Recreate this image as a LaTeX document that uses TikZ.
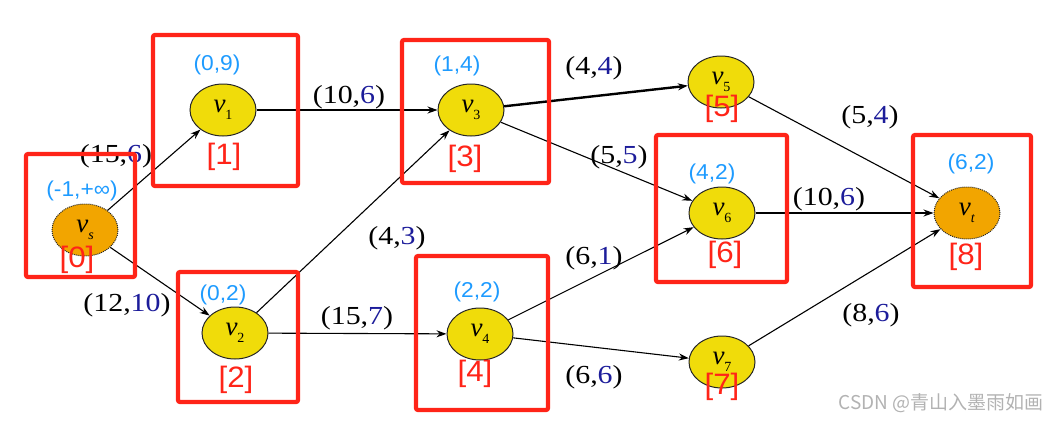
\documentclass[tikz,border=0pt]{standalone}
\usepackage{fontspec}
\setmainfont{Liberation Serif}
\newfontfamily\wfont[FakeStretch=1.15]{Liberation Serif}
\newfontfamily\lblfont[FakeStretch=1.06]{Liberation Sans}
\newfontfamily\cjkfont{Noto Sans CJK SC}
\usetikzlibrary{shapes.geometric,arrows.meta}
\definecolor{vyellow}{HTML}{F0DC0A}
\definecolor{vorange}{HTML}{F2A500}
\definecolor{lblue}{HTML}{1E9BFF}
\definecolor{dblue}{HTML}{1C1C9A}
\definecolor{boxred}{HTML}{FF2418}
\newcommand{\vlab}[1]{\textit{v}\raisebox{-7pt}{\fontsize{14}{14}\selectfont #1}}
\newcommand{\wlab}[2]{(#1,\textcolor{dblue}{#2})}
\tikzset{
  vnode/.style={ellipse, draw=black!85, line width=1pt, fill=vyellow, minimum width=66pt, minimum height=52pt, inner sep=0pt, font=\fontsize{27}{28}\selectfont},
  endnode/.style={vnode, fill=vorange, densely dotted},
  rbox/.style={draw=boxred, line width=4.2pt, rounded corners=2pt, inner sep=0pt},
  wlabel/.style={font=\wfont\fontsize{26}{28}\selectfont, inner sep=0pt},
  blab/.style={text=lblue, font=\lblfont\fontsize{21.5}{23}\selectfont, inner sep=0pt},
  idx/.style={text=boxred, font=\lblfont\fontsize{29.5}{31}\selectfont, inner sep=0pt},
  arr/.style={-{Stealth[length=10pt,width=7pt]}, line width=1.1pt},
}
\begin{document}
\begin{tikzpicture}[x=1pt,y=-1pt]
\useasboundingbox (0,0) rectangle (1058,424);
% vertices
\node[endnode] (vs) at (85,230) {\vlab{\textit{s}}};
\node[vnode] (v1) at (223,110) {\vlab{1}};
\node[vnode] (v2) at (235,333) {\vlab{2}};
\node[vnode] (v3) at (471,110) {\vlab{3}};
\node[vnode] (v4) at (480,334) {\vlab{4}};
\node[vnode] (v5) at (721,82) {\vlab{5}};
\node[vnode] (v6) at (722,213) {\vlab{6}};
\node[vnode] (v7) at (722,362) {\vlab{7}};
\node[endnode] (vt) at (967,213) {\vlab{\textit{t}}};
% edges
\draw[arr] (vs) -- (v1);
\draw[arr] (vs) -- (v2);
\draw[arr] (v1) -- (v3);
\draw[arr] (v2) -- (v3);
\draw[arr] (v2) -- (v4);
\draw[arr, line width=2.4pt] (v3) -- (v5);
\draw[arr] (v3) -- (v6);
\draw[arr] (v4) -- (v6);
\draw[arr] (v4) -- (v7);
\draw[arr] (v5) -- (vt);
\draw[arr] (v6) -- (vt);
\draw[arr] (v7) -- (vt);
% edge labels
\node[wlabel] (l1) at (116,156) {\wlab{15}{6}};
\node[wlabel] (l2) at (127,305) {\wlab{12}{10}};
\node[wlabel] (l3) at (349,97) {\wlab{10}{6}};
\node[wlabel] (l4) at (594,68) {\wlab{4}{4}};
\node[wlabel] (l5) at (619,157) {\wlab{5}{5}};
\node[wlabel] (l6) at (870,117) {\wlab{5}{4}};
\node[wlabel] (l7) at (829,199) {\wlab{10}{6}};
\node[wlabel] (l8) at (397,238) {\wlab{4}{3}};
\node[wlabel] (l9) at (594,258) {\wlab{6}{1}};
\node[wlabel] (l10) at (357,318) {\wlab{15}{7}};
\node[wlabel] (l11) at (594,377) {\wlab{6}{6}};
\node[wlabel] (l12) at (871,315) {\wlab{8}{6}};
% boxes
\node[rbox, minimum width=109pt, minimum height=123pt] (b0) at (80.5,215.5) {};
\node[rbox, minimum width=145pt, minimum height=151pt] (b1) at (225.5,110.5) {};
\node[rbox, minimum width=120pt, minimum height=130pt] (b2) at (238,337) {};
\node[rbox, minimum width=147pt, minimum height=143pt] (b3) at (475.5,111.5) {};
\node[rbox, minimum width=132pt, minimum height=154pt] (b4) at (482,333) {};
\node[rbox, minimum width=131pt, minimum height=147pt] (b6) at (721.5,208.5) {};
\node[rbox, minimum width=118pt, minimum height=152pt] (b8) at (972,211) {};
% blue labels
\node[blab] (d0) at (82,191) {(-1,+∞)};
\node[blab] (d1) at (217,65) {(0,9)};
\node[blab] (d3) at (457,66) {(1,4)};
\node[blab] (d2) at (223,295) {(0,2)};
\node[blab] (d6) at (712,174) {(4,2)};
\node[blab] (d8) at (971,164) {(6,2)};
\node[blab] (d4) at (477,292) {(2,2)};
% index labels
\node[idx] (i0) at (77,260) {[0]};
\node[idx] (i1) at (224,157) {[1]};
\node[idx] (i2) at (236,380) {[2]};
\node[idx] (i3) at (465,159) {[3]};
\node[idx] (i4) at (475,374) {[4]};
\node[idx] (i5) at (722,109) {[5]};
\node[idx] (i6) at (725,255) {[6]};
\node[idx] (i7) at (722,387) {[7]};
\node[idx] (i8) at (966,257) {[8]};
% watermark
\node[text=black!30, font=\cjkfont\fontsize{19}{20}\selectfont, inner sep=0pt] (wm) at (941,403) {CSDN @青山入墨雨如画};
\end{tikzpicture}
\end{document}
